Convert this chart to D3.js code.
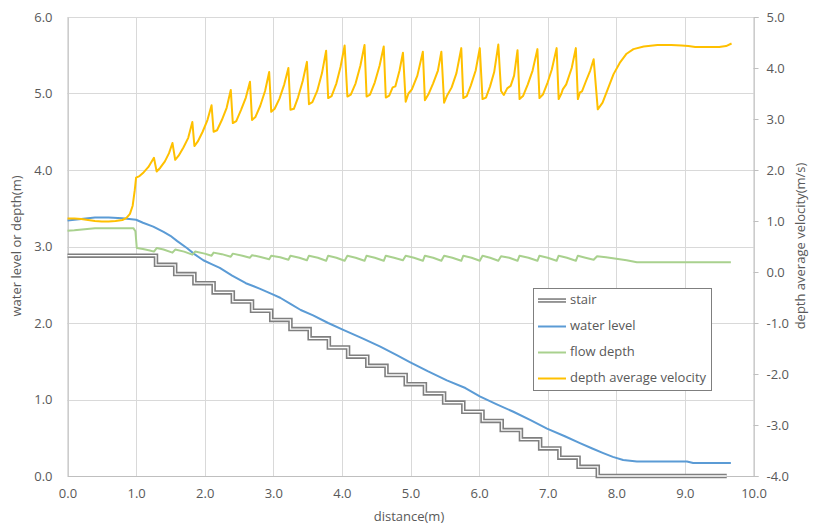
<!DOCTYPE html>
<html>
<head>
<meta charset="utf-8">
<script src="https://cdn.jsdelivr.net/npm/d3@7"></script>
<style>
  html, body { margin: 0; padding: 0; background: #fff; }
  svg { display: block; font-family: "Open Sans", "Noto Sans", sans-serif; }
</style>
</head>
<body>
<svg id="chart" width="815" height="530"></svg>
<script>
// ---------------- DATA ----------------
const xTicks = [0, 1, 2, 3, 4, 5, 6, 7, 8, 9, 10];
const leftTicks = [0, 1, 2, 3, 4, 5, 6];
const rightTicks = [-4, -3, -2, -1, 0, 1, 2, 3, 4, 5];

const seriesNames = ["stair", "water level", "flow depth", "depth average velocity"];
const seriesColors = ["#7f7f7f", "#5b9bd5", "#a9d18e", "#ffc000"];

// stair (left axis): step edges and levels
const stairEdges = [1.29, 1.57, 1.85, 2.13, 2.41, 2.69, 2.97, 3.25, 3.53, 3.81, 4.09, 4.37,
                    4.65, 4.93, 5.21, 5.49, 5.77, 6.05, 6.33, 6.61, 6.89, 7.17, 7.45, 7.73];
const stairLevels = [2.88, 2.76, 2.64, 2.52, 2.40, 2.28, 2.16, 2.04, 1.92, 1.80, 1.68, 1.56, 1.44,
                     1.32, 1.20, 1.08, 0.96, 0.84, 0.72, 0.60, 0.48, 0.36, 0.24, 0.12, 0.00];
const stairStart = 0.0;
const stairEnd = 9.61;

// water level (left axis)
const wlX = [0.00, 0.20, 0.40, 0.60, 0.80, 1.00, 1.10, 1.25, 1.40, 1.50, 1.60, 1.74, 1.85, 1.98,
             2.10, 2.22, 2.40, 2.60, 2.80, 2.90, 3.00, 3.10, 3.25, 3.40, 3.58, 3.80, 4.02, 4.30,
             4.56, 4.80, 4.99, 5.25, 5.53, 5.80, 6.01, 6.25, 6.50, 6.75, 6.99, 7.25, 7.47, 7.65,
             7.81, 7.95, 8.10, 8.30, 8.60, 9.03, 9.12, 9.40, 9.67];
const wlY = [3.34, 3.36, 3.38, 3.38, 3.37, 3.35, 3.31, 3.26, 3.19, 3.14, 3.07, 2.98, 2.90, 2.82,
             2.77, 2.72, 2.62, 2.52, 2.45, 2.41, 2.37, 2.33, 2.25, 2.17, 2.10, 2.00, 1.91, 1.80,
             1.69, 1.58, 1.49, 1.37, 1.25, 1.15, 1.04, 0.94, 0.84, 0.73, 0.62, 0.52, 0.43, 0.36,
             0.30, 0.25, 0.21, 0.19, 0.19, 0.19, 0.17, 0.17, 0.17];

// flow depth (right axis)
const fdX = [0.00, 0.10, 0.25, 0.40, 0.60, 0.80, 0.96, 0.99, 1.01, 1.10, 1.20, 1.26, 1.30, 1.40,
             1.53, 1.57, 1.70, 1.82, 1.86, 2.00, 2.10, 2.13, 2.25, 2.38, 2.41, 2.55, 2.66, 2.69,
             2.80, 2.94, 2.97, 3.10, 3.22, 3.25, 3.38, 3.49, 3.52, 3.65, 3.77, 3.80, 3.92, 4.04,
             4.08, 4.20, 4.33, 4.36, 4.48, 4.61, 4.64, 4.76, 4.89, 4.93, 5.05, 5.18, 5.21, 5.33,
             5.45, 5.49, 5.61, 5.74, 5.77, 5.89, 6.01, 6.05, 6.16, 6.28, 6.32, 6.44, 6.56, 6.59,
             6.72, 6.85, 6.88, 7.00, 7.13, 7.16, 7.28, 7.41, 7.44, 7.55, 7.67, 7.72, 7.85, 8.00,
             8.15, 8.30, 8.50, 9.00, 9.67];
const fdY = [0.81, 0.82, 0.84, 0.86, 0.86, 0.86, 0.86, 0.80, 0.47, 0.45, 0.42, 0.40, 0.47, 0.44,
             0.38, 0.44, 0.40, 0.34, 0.40, 0.36, 0.32, 0.38, 0.35, 0.30, 0.36, 0.32, 0.28, 0.33,
             0.30, 0.25, 0.32, 0.29, 0.24, 0.32, 0.28, 0.23, 0.32, 0.28, 0.22, 0.32, 0.28, 0.22,
             0.32, 0.28, 0.22, 0.32, 0.28, 0.22, 0.32, 0.28, 0.23, 0.32, 0.28, 0.22, 0.32, 0.28,
             0.22, 0.32, 0.28, 0.22, 0.32, 0.28, 0.22, 0.32, 0.28, 0.22, 0.31, 0.28, 0.22, 0.32,
             0.28, 0.22, 0.32, 0.28, 0.22, 0.32, 0.28, 0.22, 0.32, 0.28, 0.24, 0.31, 0.29, 0.26,
             0.23, 0.19, 0.19, 0.19, 0.19];

// depth average velocity (right axis)
const velX = [0.00, 0.10, 0.20, 0.30, 0.40, 0.50, 0.60, 0.70, 0.80, 0.86, 0.91, 0.95, 0.98, 1.00,
              1.05, 1.10, 1.18, 1.26, 1.30, 1.35, 1.42, 1.48, 1.53, 1.57, 1.62, 1.69, 1.76, 1.82,
              1.85, 1.90, 1.97, 2.04, 2.10, 2.13, 2.18, 2.25, 2.32, 2.38, 2.41, 2.46, 2.53, 2.60,
              2.66, 2.69, 2.74, 2.81, 2.88, 2.94, 2.97, 3.02, 3.09, 3.16, 3.22, 3.25, 3.30, 3.36,
              3.43, 3.49, 3.52, 3.57, 3.64, 3.71, 3.77, 3.80, 3.85, 3.92, 3.98, 4.04, 4.08, 4.13,
              4.20, 4.27, 4.33, 4.36, 4.41, 4.48, 4.55, 4.61, 4.64, 4.69, 4.74, 4.78, 4.84, 4.89,
              4.93, 4.97, 5.02, 5.10, 5.18, 5.21, 5.26, 5.33, 5.40, 5.45, 5.49, 5.53, 5.60, 5.67,
              5.74, 5.77, 5.82, 5.88, 5.95, 6.01, 6.05, 6.10, 6.16, 6.22, 6.28, 6.32, 6.36, 6.41,
              6.46, 6.51, 6.56, 6.59, 6.64, 6.71, 6.78, 6.85, 6.88, 6.93, 7.00, 7.06, 7.13, 7.16,
              7.20, 7.22, 7.27, 7.35, 7.41, 7.44, 7.47, 7.50, 7.56, 7.62, 7.67, 7.73, 7.80, 7.88,
              7.96, 8.05, 8.15, 8.25, 8.40, 8.60, 8.80, 8.95, 9.05, 9.15, 9.30, 9.50, 9.60, 9.68];
const velY = [1.05, 1.05, 1.04, 1.02, 1.00, 0.99, 0.99, 1.00, 1.02, 1.06, 1.14, 1.30, 1.60, 1.85,
              1.88, 1.94, 2.06, 2.24, 1.97, 2.04, 2.17, 2.33, 2.53, 2.20, 2.28, 2.44, 2.63, 2.94,
              2.47, 2.56, 2.75, 2.98, 3.27, 2.75, 2.78, 2.98, 3.22, 3.57, 2.92, 2.96, 3.18, 3.42,
              3.73, 2.98, 3.04, 3.26, 3.55, 3.92, 3.14, 3.20, 3.40, 3.68, 4.00, 3.18, 3.20, 3.42,
              3.75, 4.12, 3.29, 3.33, 3.55, 3.90, 4.34, 3.41, 3.45, 3.70, 4.02, 4.44, 3.44, 3.48,
              3.70, 4.05, 4.45, 3.44, 3.48, 3.72, 4.05, 4.42, 3.42, 3.46, 3.62, 3.64, 3.95, 4.30,
              3.34, 3.50, 3.58, 3.85, 4.32, 3.37, 3.48, 3.70, 3.95, 4.32, 3.32, 3.45, 3.62, 3.90,
              4.39, 3.41, 3.45, 3.66, 3.95, 4.39, 3.39, 3.42, 3.64, 3.92, 4.46, 3.55, 3.47, 3.60,
              3.65, 3.85, 4.35, 3.39, 3.45, 3.68, 3.95, 4.37, 3.41, 3.48, 3.72, 3.97, 4.39, 3.39,
              3.50, 3.58, 3.68, 4.00, 4.39, 3.39, 3.52, 3.54, 3.75, 3.95, 4.17, 3.19, 3.32, 3.60,
              3.88, 4.10, 4.28, 4.37, 4.42, 4.45, 4.45, 4.44, 4.43, 4.41, 4.41, 4.41, 4.43, 4.48];

// ---------------- CHART ----------------
const svg = d3.select("#chart");
const plot = { left: 67.5, right: 753.5, top: 17, bottom: 476 };

const x = d3.scaleLinear().domain([0, 10]).range([plot.left, plot.right]);
const yL = d3.scaleLinear().domain([0, 6]).range([plot.bottom, plot.top]);
const yR = d3.scaleLinear().domain([-4, 5]).range([plot.bottom, plot.top]);

const textColor = "#595959";
const gridColor = "#d9d9d9";
const fmt = d => d3.format(".1f")(d).replace("\u2212", "-");

// gridlines
const grid = svg.append("g");
grid.selectAll("line.h").data(leftTicks).join("line")
  .attr("x1", plot.left).attr("x2", plot.right)
  .attr("y1", d => Math.round(yL(d)) + 0.5).attr("y2", d => Math.round(yL(d)) + 0.5)
  .attr("stroke", gridColor).attr("stroke-width", 1);
grid.selectAll("line.v").data(xTicks).join("line")
  .attr("y1", plot.top).attr("y2", plot.bottom)
  .attr("x1", d => Math.round(x(d)) + 0.5).attr("x2", d => Math.round(x(d)) + 0.5)
  .attr("stroke", gridColor).attr("stroke-width", 1);

// axes
const axisBottom = d3.axisBottom(x).tickValues(xTicks).tickFormat(fmt).tickSize(0).tickPadding(13);
const gB = svg.append("g").attr("transform", `translate(0,${plot.bottom})`).call(axisBottom);
gB.select(".domain").attr("stroke", "#bfbfbf");

const axisLeft = d3.axisLeft(yL).tickValues(leftTicks).tickFormat(fmt).tickSize(0).tickPadding(15);
const gL = svg.append("g").attr("transform", `translate(${plot.left},0)`).call(axisLeft);
gL.select(".domain").attr("stroke", "#bfbfbf");

const axisRight = d3.axisRight(yR).tickValues(rightTicks).tickFormat(fmt).tickSize(5).tickPadding(8);
const gR = svg.append("g").attr("transform", `translate(${plot.right},0)`).call(axisRight);
gR.select(".domain").attr("stroke", "#bfbfbf");
gR.selectAll(".tick line").attr("stroke", "#bfbfbf");
gR.selectAll(".tick text").attr("text-anchor", "start");

[gB, gL, gR].forEach(g => g.selectAll(".tick text")
  .attr("fill", textColor).style("font-size", "13px").style("font-family", '"Open Sans", sans-serif'));

// axis titles
svg.append("text").attr("x", 409).attr("y", 518).attr("text-anchor", "middle")
  .attr("dominant-baseline", "middle").attr("fill", textColor).style("font-size", "13px")
  .text("distance(m)");
svg.append("text").attr("transform", "translate(18,246) rotate(-90)").attr("text-anchor", "middle")
  .attr("dominant-baseline", "middle").attr("fill", textColor).style("font-size", "13px")
  .text("water level or depth(m)");
svg.append("text").attr("transform", "translate(802,246) rotate(-90)").attr("text-anchor", "middle")
  .attr("dominant-baseline", "middle").attr("fill", textColor).style("font-size", "13px")
  .text("depth average velocity(m/s)");

// series
const stairPts = [[stairStart, stairLevels[0]]]
  .concat(stairEdges.map((e, i) => [e, stairLevels[i + 1]]))
  .concat([[stairEnd, stairLevels[stairLevels.length - 1]]]);
const stairLine = d3.line().x(d => x(d[0])).y(d => yL(d[1])).curve(d3.curveStepAfter);
svg.append("path").attr("d", stairLine(stairPts)).attr("fill", "none")
  .attr("stroke", seriesColors[0]).attr("stroke-width", 4.5);
svg.append("path").attr("d", stairLine(stairPts)).attr("fill", "none")
  .attr("stroke", "#ffffff").attr("stroke-width", 1.3);

const lineL = d3.line().x(d => x(d[0])).y(d => yL(d[1]));
const lineR = d3.line().x(d => x(d[0])).y(d => yR(d[1]));

svg.append("path").attr("d", lineL(wlX.map((v, i) => [v, wlY[i]]))).attr("fill", "none")
  .attr("stroke", seriesColors[1]).attr("stroke-width", 2).attr("stroke-linejoin", "round");
svg.append("path").attr("d", lineR(fdX.map((v, i) => [v, fdY[i]]))).attr("fill", "none")
  .attr("stroke", seriesColors[2]).attr("stroke-width", 2).attr("stroke-linejoin", "round");
svg.append("path").attr("d", lineR(velX.map((v, i) => [v, velY[i]]))).attr("fill", "none")
  .attr("stroke", seriesColors[3]).attr("stroke-width", 2).attr("stroke-linejoin", "round");

// legend
const lg = svg.append("g");
lg.append("rect").attr("x", 533.5).attr("y", 288.5).attr("width", 178).attr("height", 102)
  .attr("fill", "#fff").attr("stroke", "#7f7f7f").attr("stroke-width", 1);
const rowY = [300.5, 326.5, 352.5, 378.5];
seriesNames.forEach((name, i) => {
  if (i === 0) {
    lg.append("line").attr("x1", 538).attr("x2", 566).attr("y1", rowY[i]).attr("y2", rowY[i])
      .attr("stroke", seriesColors[0]).attr("stroke-width", 4.5);
    lg.append("line").attr("x1", 538).attr("x2", 566).attr("y1", rowY[i]).attr("y2", rowY[i])
      .attr("stroke", "#fff").attr("stroke-width", 1.3);
  } else {
    lg.append("line").attr("x1", 538).attr("x2", 566).attr("y1", rowY[i]).attr("y2", rowY[i])
      .attr("stroke", seriesColors[i]).attr("stroke-width", 2);
  }
  lg.append("text").attr("x", 570).attr("y", rowY[i]).attr("dominant-baseline", "middle")
    .attr("fill", textColor).style("font-size", "13px").text(name);
});
</script>
</body>
</html>
